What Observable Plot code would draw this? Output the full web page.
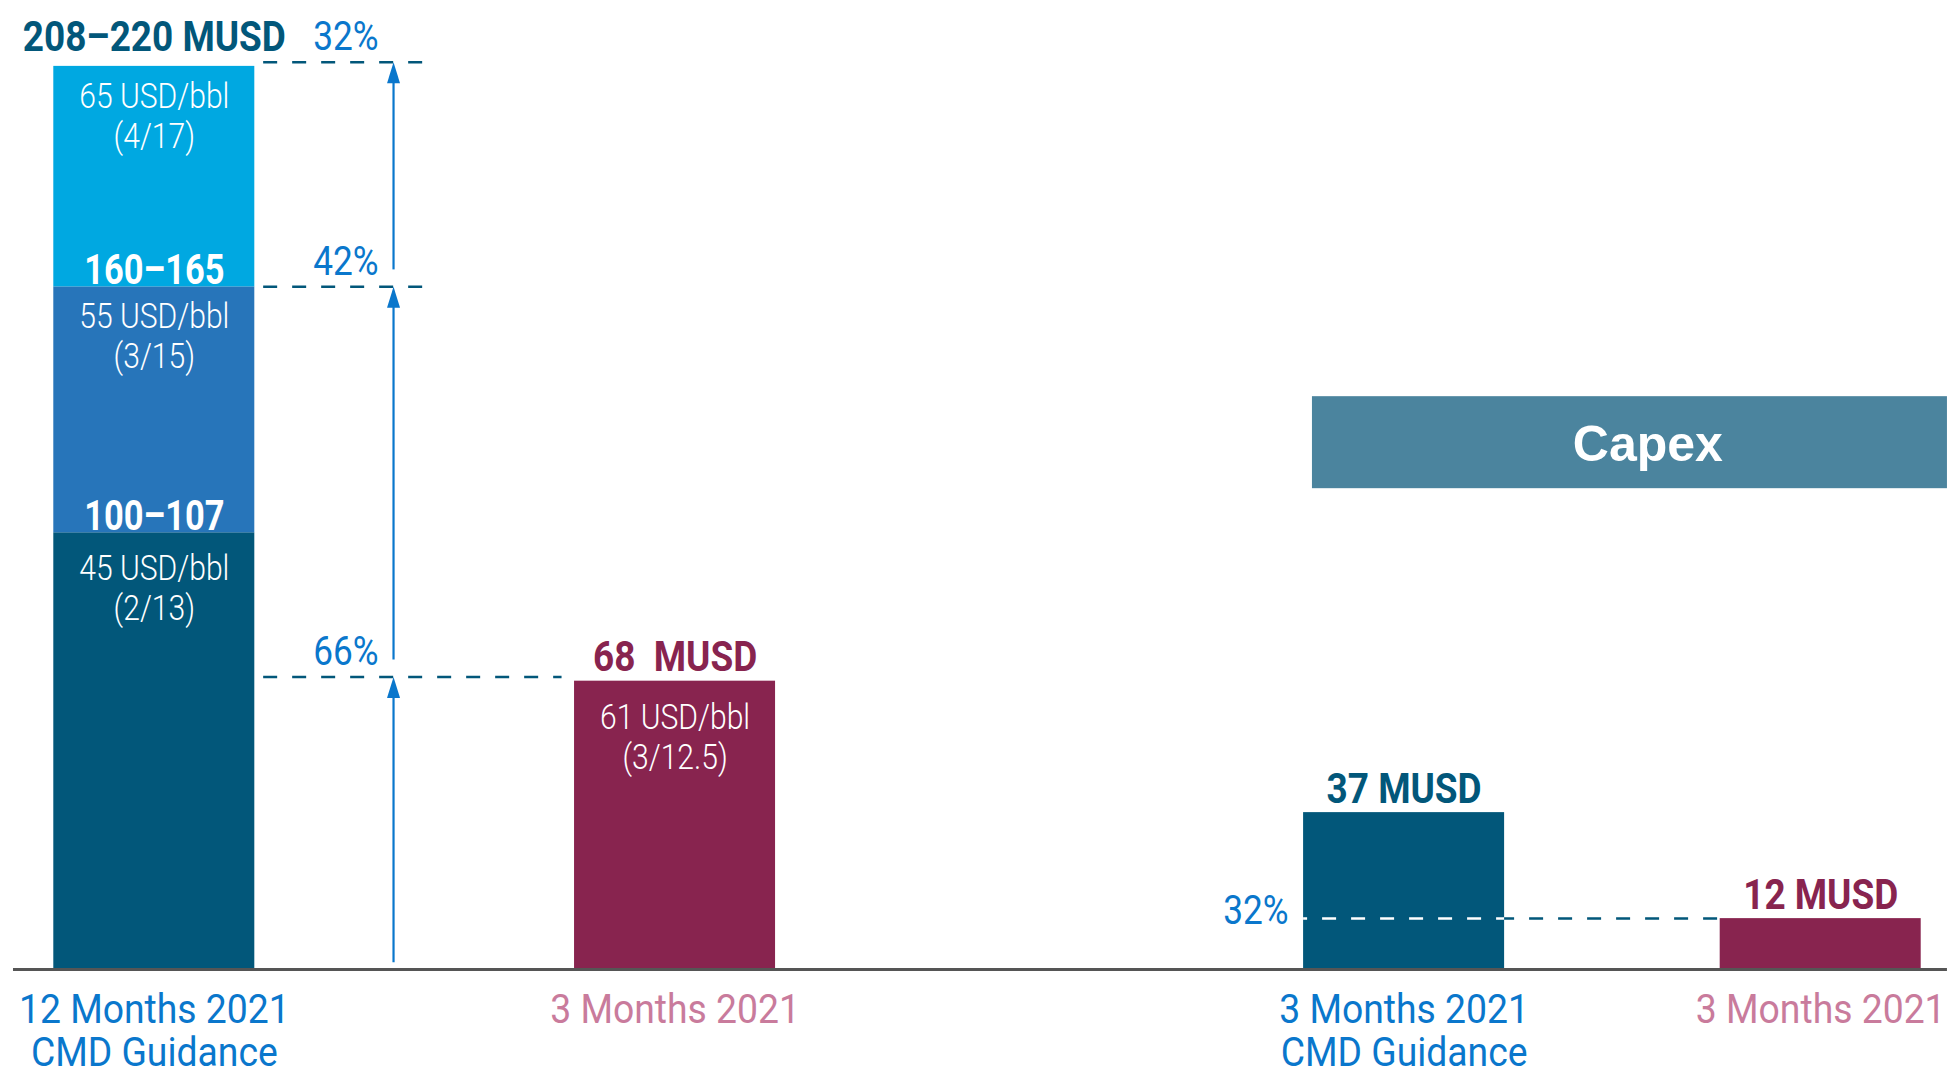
<!DOCTYPE html>
<html>
<head>
<meta charset="utf-8">
<script src="https://cdn.jsdelivr.net/npm/d3@7"></script>
<script src="https://cdn.jsdelivr.net/npm/@observablehq/plot@0.6"></script>
<style>
  html, body { margin: 0; padding: 0; background: #fff; overflow: hidden; }
  #chart svg { display: block; }
</style>
</head>
<body>
<div id="chart"></div>
<script>
// ---------------- DATA ----------------
const categoryLabels = ["12 Months 2021\nCMD Guidance", "3 Months 2021", "3 Months 2021\nCMD Guidance", "3 Months 2021"];
const categoryKinds  = ["guidance", "actual", "guidance", "actual"];

// 12-month CMD guidance: cumulative scenario levels (MUSD)
const scenarioTops    = [103, 161, 213];
const scenarioRanges  = ["100–107", "160–165", "208–220 MUSD"];
const scenarioPrices  = ["45 USD/bbl\n(2/13)", "55 USD/bbl\n(3/15)", "65 USD/bbl\n(4/17)"];

// 3-month actual
const actualValue = 68;
const actualLabel = "68  MUSD";
const actualPrice = "61 USD/bbl\n(3/12.5)";

// Capex
const capexTitle  = "Capex";
const capexValues = [37, 12];
const capexLabels = ["37 MUSD", "12 MUSD"];
const capexShare  = "32%";

// shares of guidance levels reached by the actual
const shareLevels = [69, 161, 214];
const shareLabels = ["66%", "42%", "32%"];
const arrowStarts = [1.6, 73, 165];

// ---------------- LAYOUT / STYLE ----------------
const slots = [0, 5, 12, 16];
const half = 0.965;
const arrowSlot = 2.297;
const C = {
  dark: "#02577A", mid: "#2775BA", light: "#00A8E1",
  maroon: "#88244F", pink: "#C97B9C", blue: "#0A77CC",
  capex: "#4B849E", axis: "#555555"
};
const segColors = [C.dark, C.mid, C.light];
const font = "Roboto, 'Liberation Sans', sans-serif";

// ---------------- DERIVED TABLES ----------------
const segments = scenarioTops.map((t, i) => ({
  x1: slots[0] - half, x2: slots[0] + half,
  y1: i === 0 ? 0 : scenarioTops[i - 1], y2: t,
  fill: segColors[i], range: scenarioRanges[i], price: scenarioPrices[i]
}));
const singleBars = [
  {slot: slots[1], value: actualValue, fill: C.maroon, label: actualLabel, color: C.maroon},
  {slot: slots[2], value: capexValues[0], fill: C.dark, label: capexLabels[0], color: C.dark},
  {slot: slots[3], value: capexValues[1], fill: C.maroon, label: capexLabels[1], color: C.maroon}
];
const cats = categoryLabels.map((l, i) => ({slot: slots[i], label: l, color: categoryKinds[i] === "guidance" ? C.blue : C.pink}));

const guideRules = shareLevels.map((lv, i) => ({y: lv, x1: slots[0] + half + 0.085, x2: i === 0 ? slots[1] - half - 0.12 : arrowSlot + 0.28}));
const arrows = shareLevels.map((lv, i) => ({x: arrowSlot, y1: arrowStarts[i], y2: lv, label: shareLabels[i]}));

const priceUpper = [
  {x: slots[0], y: segments[2].y2, text: segments[2].price},
  {x: slots[0], y: segments[1].y2, text: segments[1].price}
];
const priceLower = [
  {x: slots[0], y: segments[0].y2, text: segments[0].price},
  {x: slots[1], y: actualValue, text: actualPrice}
];
const rangeLabels = segments.slice(0, 2).map((s, i) => ({x: slots[0], y: s.y2, text: scenarioRanges[i]}));

// narrow arrow head (tip at origin, pointing up)
const headSymbol = {draw(ctx) { ctx.moveTo(0, 0); ctx.lineTo(6.5, 21); ctx.lineTo(-6.5, 21); ctx.closePath(); }};

const priceStyle = {x: "x", y: "y", text: "text", lineAnchor: "top", lineHeight: 1.143, fill: "#fff", fontSize: 35, fontWeight: 300};

const chart = Plot.plot({
  width: 1947, height: 1077,
  margin: 0,
  x: {type: "linear", domain: [0, 16], range: [153.8, 1820.2], axis: null},
  y: {type: "linear", domain: [0, 220], range: [969, 36.2], axis: null},
  style: {fontFamily: font, background: "#fff", overflow: "hidden"},
  marks: [
    // Capex header band
    Plot.rect([capexTitle], {x1: 11.12, x2: 17.217, y1: 113.4, y2: 135.1, fill: C.capex}),
    Plot.text([capexTitle], {x: 14.34, y: 120, text: d => d, lineAnchor: "bottom", fill: "#fff",
      fontSize: 50, fontWeight: "bold", fontFamily: "'Liberation Sans', Arial, sans-serif"}),

    // stacked guidance bar
    Plot.rect(segments, {x1: "x1", x2: "x2", y1: "y1", y2: "y2", fill: "fill"}),
    // single bars
    Plot.rect(singleBars, {x1: d => d.slot - half, x2: d => d.slot + half, y1: 0, y2: "value", fill: "fill"}),

    // dashed guide lines (left)
    Plot.ruleY(guideRules, {y: "y", x1: "x1", x2: "x2", stroke: C.dark, strokeWidth: 2.5, strokeDasharray: "14,15"}),
    // capex 32% dashed line: white inside guidance bar, dark between bars
    Plot.ruleY([capexValues[1]], {y: d => d, x1: slots[2] - half, x2: slots[2] + half, stroke: "#fff", strokeWidth: 2.5, strokeDasharray: "14,15", strokeDashoffset: 10}),
    Plot.ruleY([capexValues[1]], {y: d => d, x1: slots[2] + half, x2: slots[3] - half, stroke: C.dark, strokeWidth: 2.5, strokeDasharray: "14,15", strokeDashoffset: 4}),

    // arrows
    Plot.ruleX(arrows, {x: "x", y1: "y1", y2: d => d.y2 - 3, stroke: C.blue, strokeWidth: 2.2}),
    Plot.dot(arrows, {x: "x", y: "y2", symbol: headSymbol, fill: C.blue, stroke: null}),

    // share labels
    Plot.text(arrows, {x: "x", y: "y2", text: "label", textAnchor: "end", lineAnchor: "bottom", dx: -15, dy: -12,
      fill: C.blue, fontSize: 40}),
    Plot.text([capexShare], {x: slots[2] - half, y: capexValues[1], text: d => d, textAnchor: "end", lineAnchor: "bottom",
      dx: -15, dy: 5, fill: C.blue, fontSize: 40}),

    // baseline axis
    Plot.ruleY([0], {x1: -1.352, x2: 17.217, stroke: C.axis, strokeWidth: 3}),

    // value labels above bars
    Plot.text([scenarioRanges[2]], {x: slots[0], y: scenarioTops[2], text: d => d, lineAnchor: "bottom", dy: -15,
      fill: C.dark, fontSize: 42, fontWeight: "bold"}),
    Plot.text(singleBars, {x: "slot", y: "value", text: "label", lineAnchor: "bottom", dy: -10,
      fill: "color", fontSize: 42, fontWeight: "bold"}),
    // range labels inside bar
    Plot.text(rangeLabels, {x: "x", y: "y", text: "text", lineAnchor: "bottom", dy: -3,
      fill: "#fff", fontSize: 42, fontWeight: "bold"}),
    // price labels inside bars
    Plot.text(priceUpper, {...priceStyle, dy: 13}),
    Plot.text(priceLower, {...priceStyle, dy: 19}),

    // category labels
    Plot.text(cats, {x: "slot", y: 0, text: "label", lineAnchor: "top", lineHeight: 1.04, dy: 23.7,
      fill: "color", fontSize: 41})
  ]
});

// condense the type (the original uses a condensed face)
const rangeSet = new Set(rangeLabels.map(d => d.text));
const catSet = new Set(categoryLabels.map(s => s.replace(/\n/g, "")));
chart.querySelectorAll("text").forEach(t => {
  const tr = t.getAttribute("transform");
  if (!tr) return;
  const g = t.closest("g");
  const fam = (g && g.getAttribute("font-family")) || "";
  if (fam.includes("Liberation")) return;
  const w = g && g.getAttribute("font-weight");
  const content = t.textContent;
  let sx = w === "bold" ? 0.88 : w === "300" ? 0.86 : 0.88;
  if (rangeSet.has(content)) sx = 0.82;
  if (catSet.has(content)) sx = 0.91;
  t.setAttribute("transform", tr + ` scale(${sx},1)`);
});

document.getElementById("chart").append(chart);
</script>
</body>
</html>
